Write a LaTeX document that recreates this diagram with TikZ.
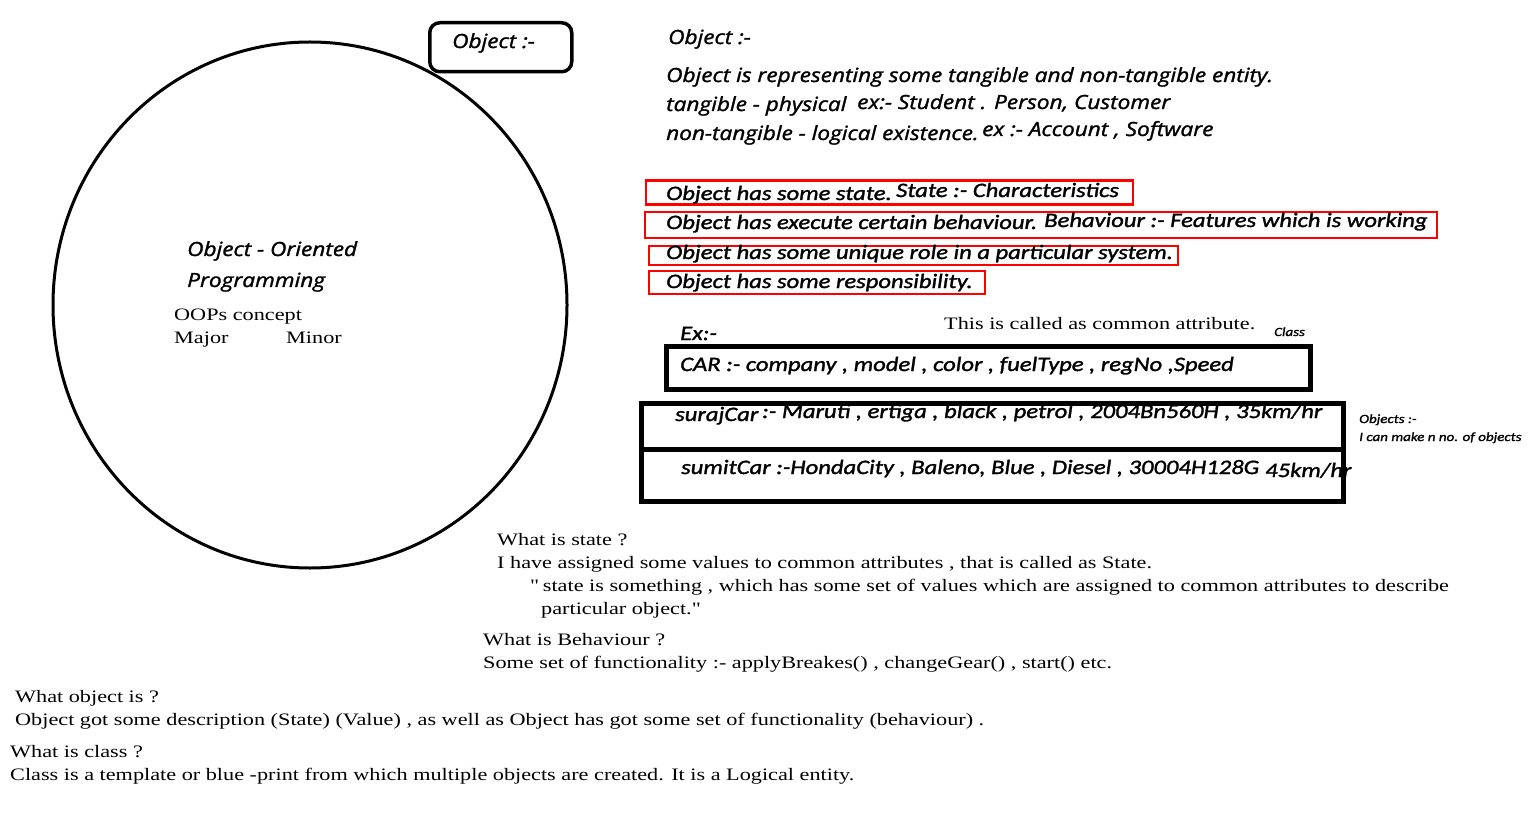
\documentclass[tikz,border=0pt]{standalone}
\usepackage{fontspec}
\setmainfont[FakeStretch=1.27]{Liberation Serif}
\newfontfamily\segoe[FakeBold=1.5,FakeStretch=1.16]{Open Sans}
\newfontfamily\calib[FakeBold=1.5,FakeStretch=1.2]{Carlito}
\usetikzlibrary{shapes.geometric}
\tikzset{
  seg/.style={font=\segoe\itshape\fontsize{19.5}{23}\selectfont, anchor=base west, inner sep=0pt},
  cal/.style={font=\calib\itshape\fontsize{20.5}{24}\selectfont, anchor=base west, inner sep=0pt},
  calsmall/.style={font=\calib\itshape\fontsize{12.5}{15}\selectfont, anchor=base west, inner sep=0pt},
  ser/.style={font=\fontsize{17.5}{21}\selectfont, anchor=base west, inner sep=0pt},
  redbox/.style={draw=red, line width=2.2pt, anchor=north west, inner sep=0pt},
  blkbox/.style={draw=black, line width=5pt, anchor=north west, inner sep=0pt},
}
\begin{document}
\begin{tikzpicture}[x=1pt,y=-1pt]
\useasboundingbox[fill=white] (0,0) rectangle (1539,834);

% circle
\node[draw, line width=3pt, ellipse, minimum width=514pt, minimum height=526pt, inner sep=0pt] (circ) at (310,305) {};
\node[seg] (oop1) at (187,256) {Object - Oriented};
\node[seg] (oop2) at (187,287) {Programming};
\node[ser] (oops) at (174,320) {OOPs concept};
\node[ser] (major) at (174,343) {Major};
\node[ser] (minor) at (286,343) {Minor};

% rounded box
\node[draw, line width=3.5pt, rounded corners=10pt, minimum width=142pt, minimum height=49pt, anchor=north west, inner sep=0pt] (objbox) at (428,21) {};
\node[seg] (objboxt) at (452,48) {Object :-};

% definitions
\node[seg] (d0) at (668,44) {Object :-};
\node[seg] (d1) at (666,82) {Object is representing some tangible and non-tangible entity.};
\node[seg] (d2) at (666,111) {tangible - physical};
\node[seg] (d2b) at (857,109) {ex:- Student . Person, Customer};
\node[seg] (d3) at (666,140) {non-tangible - logical existence.};
\node[seg] (d3b) at (982,136) {ex :- Account , Software};

% red boxes
\node[redbox, minimum width=487pt, minimum height=24pt] (rb1) at (644.5,179.5) {};
\node[redbox, minimum width=792pt, minimum height=26pt] (rb2) at (644,211) {};
\node[redbox, minimum width=529pt, minimum height=19pt] (rb3) at (647.5,245) {};
\node[redbox, minimum width=336pt, minimum height=23pt] (rb4) at (647.5,270) {};
\node[cal] (r1) at (666,200) {Object has some state.};
\node[cal] (r1b) at (896,197) {State :- Characteristics};
\node[cal] (r2) at (666,229) {Object has execute certain behaviour.};
\node[cal] (r2b) at (1044,227) {Behaviour :- Features which is working};
\node[cal] (r3) at (666,259) {Object has some unique role in a particular system.};
\node[cal] (r4) at (666,288) {Object has some responsibility.};

% example
\node[cal] (ex) at (680,340) {Ex:-};
\node[ser] (common) at (944,329) {This is called as common attribute.};
\node[calsmall] (cls) at (1274,336) {Class};
\node[blkbox, minimum width=644pt, minimum height=43pt] (carbox) at (664,343.5) {};
\node[cal] (car) at (680,371) {CAR :- company , model , color , fuelType , regNo ,Speed};

\node[blkbox, minimum width=702pt, minimum height=46pt] (surbox) at (638.5,401) {};
\node[blkbox, minimum width=702pt, minimum height=52pt] (sumbox) at (638.5,447) {};
\node[cal] (sur) at (675,421) {surajCar};
\node[cal] (surv) at (762,418) {:- Maruti , ertiga , black , petrol , 2004Bn560H , 35km/hr};
\node[cal] (sum) at (681,474) {sumitCar :-HondaCity , Baleno, Blue , Diesel , 30004H128G};
\node[cal] (sumv) at (1265,477) {45km/hr};
\node[calsmall] (objs1) at (1359,423) {Objects :-};
\node[calsmall] (objs2) at (1359,441) {I can make n no. of objects};

% serif explanations
\node[ser] (s1) at (497,545) {What is state ?};
\node[ser] (s2) at (497,568) {I have assigned some values to common attributes , that is called as State.};
\node[ser] (s3) at (530,591) {\textquotedbl\ state is something , which has some set of values which are assigned to common attributes to describe};
\node[ser] (s4) at (541,614) {particular object.\textquotedbl};
\node[ser] (b1) at (483,645) {What is Behaviour ?};
\node[ser] (b2) at (483,668) {Some set of functionality :- applyBreakes() , changeGear() , start() etc.};
\node[ser] (o1) at (15,702) {What object is ?};
\node[ser] (o2) at (15,725) {Object got some description (State) (Value) , as well as Object has got some set of functionality (behaviour) .};
\node[ser] (c1) at (10,757) {What is class ?};
\node[ser] (c2) at (10,780) {Class is a template or blue -print from which multiple objects are created. It is a Logical entity.};
\end{tikzpicture}
\end{document}
